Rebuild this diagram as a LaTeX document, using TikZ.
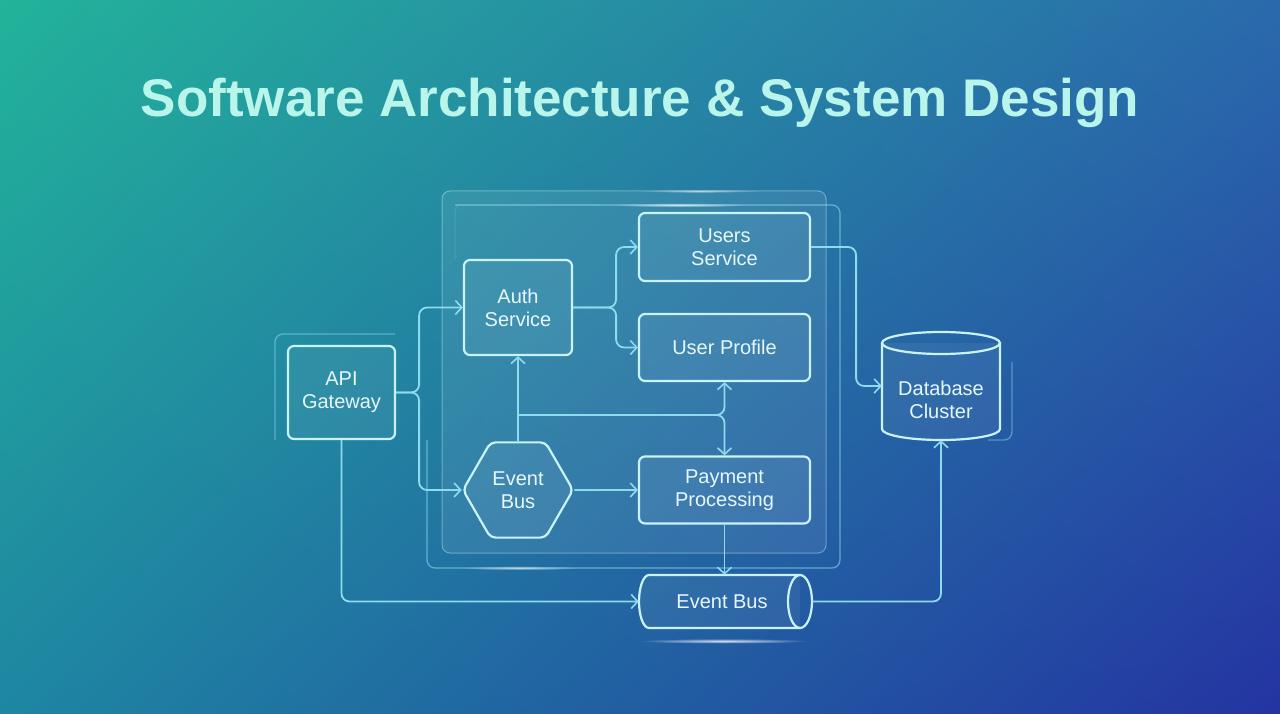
\documentclass[tikz,border=0pt]{standalone}
\usepackage{fontspec}
\setmainfont{Liberation Sans}
\usetikzlibrary{arrows.meta,shapes.geometric,fadings,shadings}
\definecolor{bgTL}{HTML}{22B39A}
\definecolor{bgTR}{HTML}{2A6AAC}
\definecolor{bgBL}{HTML}{1E86A2}
\definecolor{bgBR}{HTML}{2434A2}
\definecolor{titlec}{HTML}{B9F5EA}
\definecolor{edge}{HTML}{C9F3F8}
\definecolor{wire}{HTML}{8EDBF0}
\definecolor{txt}{HTML}{E6F8FB}
\tikzfading[name=glowfade, inner color=transparent!0, outer color=transparent!100]
\begin{document}
\begin{tikzpicture}[x=1pt,y=-1pt,
  box/.style={draw=edge, line width=2.2pt, rounded corners=6pt, fill=white, fill opacity=0.06, text opacity=1, text=txt, font=\fontsize{20}{23}\selectfont, align=center, inner sep=0pt},
  wirel/.style={draw=wire, line width=1.8pt, rounded corners=8pt},
  arr/.style={wirel, -{Straight Barb[length=6.5pt,width=14pt,line width=1.6pt]}},
  lbl/.style={text=txt, font=\fontsize{20}{23}\selectfont, align=center, inner sep=0pt},
  glow/.style={fill=white, path fading=glowfade},
]
% background
\shade[upper left=bgTL, upper right=bgTR, lower left=bgBL, lower right=bgBR] (0,0) rectangle (1280,714);
\useasboundingbox (0,0) rectangle (1280,714);

% title
\node[text=titlec, font=\fontsize{53}{60}\selectfont\bfseries] (title) at (640,103) {Software Architecture \& System Design};

% panels
\draw[draw=wire, draw opacity=0.6, line width=1.2pt, rounded corners=8pt]
  (455,205) -- (840,205) -- (840,568) -- (427,568) -- (427,440);
\node[draw=edge, draw opacity=0.4, line width=1pt, fill=white, fill opacity=0.08, rounded corners=8pt,
  minimum width=384pt, minimum height=362pt, inner sep=0pt] (panel) at (634,372) {};
\draw[draw=wire, draw opacity=0.2, line width=1pt, rounded corners=6pt] (455,260) -- (455,205) -- (600,205);

% glows
\fill[glow, opacity=0.7] (680,205) ellipse (70 and 2.2);
\fill[glow, opacity=0.6] (700,191) ellipse (60 and 1.8);
\fill[glow, opacity=0.6] (520,568) ellipse (60 and 2.2);
\fill[glow, opacity=0.8] (724,641) ellipse (85 and 2.5);

% api glow frame
\draw[draw=wire, draw opacity=0.5, line width=1.4pt, rounded corners=8pt] (275,440) -- (275,334) -- (395,334);
% db glow frame
\draw[draw=wire, draw opacity=0.45, line width=1.4pt, rounded corners=8pt] (1012,362) -- (1012,440) -- (988,440);

% nodes
\node[box, minimum width=107pt, minimum height=93pt] (api) at (341.5,392.5) {API\\Gateway};
\node[box, minimum width=108pt, minimum height=95pt] (auth) at (518,307.5) {Auth\\Service};
\node[box, minimum width=171pt, minimum height=68pt] (users) at (724.5,247) {Users\\Service};
\node[box, minimum width=171pt, minimum height=67pt] (profile) at (724.5,347.5) {User Profile};
\node[box, minimum width=171pt, minimum height=67pt] (pay) at (724.5,490) {Payment\\Processing};
\node[box, rounded corners=5pt, regular polygon, regular polygon sides=6, minimum size=110pt] (hex) at (518,490) {Event\\Bus};

% event bus cylinder (horizontal)
\node[minimum width=173pt, minimum height=53pt, inner sep=0pt] (ebus) at (725.5,601.5) {};
\fill[white, opacity=0.06] (649,575) -- (800,575) -- (800,628) -- (649,628) arc (90:270:10 and 26.5) -- cycle;
\draw[edge, line width=2.2pt] (649,575) -- (800,575) (800,628) -- (649,628) arc (90:270:10 and 26.5);
\draw[edge, line width=2.2pt] (800,601.5) ellipse (12 and 26.5);
\node[lbl] (ebustext) at (722,602) {Event Bus};

% database cylinder
\node[minimum width=118pt, minimum height=108pt, inner sep=0pt] (db) at (941,386) {};
\fill[white, opacity=0.06] (882,343) -- (882,429) arc (180:0:59 and 11) -- (1000,343) -- cycle;
\draw[edge, line width=2.2pt] (882,343) -- (882,429) arc (180:0:59 and 11) -- (1000,343);
\draw[edge, line width=2.2pt] (941,343) ellipse (59 and 11);
\node[lbl] (dbtext) at (941,400) {Database\\Cluster};

% connectors
\coordinate (j) at (518,415);
\draw[arr] (api.east) -- ++(23,0) |- (auth.west);
\draw[arr] (api.east) -- ++(23,0) |- (hex.west);
\draw[arr] (auth.east) -- ++(43,0) |- (users.west);
\draw[arr] (auth.east) -- ++(43,0) |- (profile.west);
\draw[arr] (hex.north) -- (auth.south);
\draw[arr] (j) -| (profile.south);
\draw[arr] (j) -| (pay.north);
\draw[arr] (hex.east) -- (pay.west);
\draw[arr] (pay.south) -- (pay.south |- ebus.north);
\draw[arr] (api.south) |- (ebus.west);
\draw[arr] (ebus.east) -| (db.south);
\draw[arr] (users.east) -- ++(45,0) |- (db.west);
\end{tikzpicture}
\end{document}
